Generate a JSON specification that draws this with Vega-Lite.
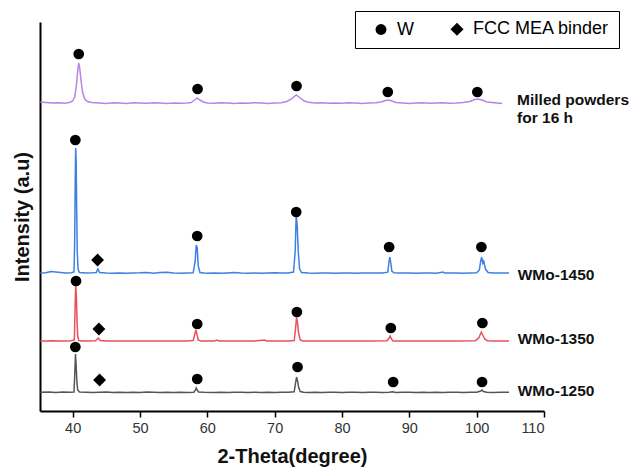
{
  "$schema": "https://vega.github.io/schema/vega-lite/v6.json",
  "width": 504,
  "height": 389,
  "autosize": "none",
  "padding": {"left": 40, "top": 22, "right": 85, "bottom": 60},
  "background": "white",
  "config": {
    "view": {"stroke": null},
    "font": "Liberation Sans"
  },
  "datasets": {
    "lines": [
      {"s":"P","t":35.2,"i":309},{"s":"P","t":36,"i":308.5},{"s":"P","t":37,"i":308},{"s":"P","t":38,"i":308.3},{"s":"P","t":38.8,"i":307.8},{"s":"P","t":39.5,"i":308.5},{"s":"P","t":40,"i":310},{"s":"P","t":40.3,"i":314},{"s":"P","t":40.55,"i":325},{"s":"P","t":40.75,"i":340},{"s":"P","t":40.9,"i":348},{"s":"P","t":41.05,"i":343},{"s":"P","t":41.25,"i":330},{"s":"P","t":41.5,"i":318},{"s":"P","t":41.8,"i":312},{"s":"P","t":42.2,"i":309.5},{"s":"P","t":42.8,"i":308.5},{"s":"P","t":44,"i":308},{"s":"P","t":45,"i":307.5},{"s":"P","t":46,"i":308.3},{"s":"P","t":47,"i":308},{"s":"P","t":48,"i":307.6},{"s":"P","t":49,"i":308.2},{"s":"P","t":50,"i":308},{"s":"P","t":51,"i":307.7},{"s":"P","t":52,"i":308.2},{"s":"P","t":53,"i":308},{"s":"P","t":54,"i":307.6},{"s":"P","t":55,"i":308},{"s":"P","t":56,"i":307.8},{"s":"P","t":57,"i":308},{"s":"P","t":57.6,"i":308.5},{"s":"P","t":58.1,"i":311},{"s":"P","t":58.5,"i":313},{"s":"P","t":58.9,"i":311},{"s":"P","t":59.4,"i":309},{"s":"P","t":60,"i":308},{"s":"P","t":61,"i":307.7},{"s":"P","t":62,"i":308.2},{"s":"P","t":63,"i":308},{"s":"P","t":64,"i":307.5},{"s":"P","t":65,"i":308},{"s":"P","t":66,"i":307.8},{"s":"P","t":67,"i":308.2},{"s":"P","t":68,"i":308},{"s":"P","t":69,"i":307.6},{"s":"P","t":70,"i":308},{"s":"P","t":71,"i":308.3},{"s":"P","t":71.8,"i":309.5},{"s":"P","t":72.5,"i":312},{"s":"P","t":73.2,"i":316},{"s":"P","t":73.8,"i":313},{"s":"P","t":74.4,"i":310},{"s":"P","t":75,"i":308.8},{"s":"P","t":76,"i":308},{"s":"P","t":77,"i":308.2},{"s":"P","t":78,"i":307.7},{"s":"P","t":79,"i":308},{"s":"P","t":80,"i":307.8},{"s":"P","t":81,"i":308.2},{"s":"P","t":82,"i":308},{"s":"P","t":83,"i":307.6},{"s":"P","t":84,"i":308},{"s":"P","t":85,"i":308.3},{"s":"P","t":85.8,"i":309},{"s":"P","t":86.5,"i":310.5},{"s":"P","t":86.9,"i":311},{"s":"P","t":87.4,"i":310},{"s":"P","t":88,"i":308.5},{"s":"P","t":89,"i":308},{"s":"P","t":90,"i":307.6},{"s":"P","t":91,"i":308},{"s":"P","t":92,"i":308.2},{"s":"P","t":93,"i":307.7},{"s":"P","t":94,"i":308},{"s":"P","t":95,"i":308.2},{"s":"P","t":96,"i":307.8},{"s":"P","t":97,"i":308},{"s":"P","t":98,"i":308.4},{"s":"P","t":99,"i":309.5},{"s":"P","t":99.7,"i":311.5},{"s":"P","t":100.2,"i":312},{"s":"P","t":100.8,"i":311},{"s":"P","t":101.5,"i":309},{"s":"P","t":102.3,"i":308.5},{"s":"P","t":103,"i":308},{"s":"P","t":103.8,"i":307.5},

      {"s":"B","t":35.2,"i":138},{"s":"B","t":36,"i":138.2},{"s":"B","t":36.8,"i":139.5},{"s":"B","t":37.5,"i":139},{"s":"B","t":38.2,"i":138.5},{"s":"B","t":39,"i":138},{"s":"B","t":39.8,"i":138.2},{"s":"B","t":40.2,"i":139},{"s":"B","t":40.3,"i":170},{"s":"B","t":40.38,"i":230},{"s":"B","t":40.45,"i":263},{"s":"B","t":40.52,"i":250},{"s":"B","t":40.6,"i":200},{"s":"B","t":40.68,"i":160},{"s":"B","t":40.8,"i":142},{"s":"B","t":41,"i":138.5},{"s":"B","t":42,"i":138},{"s":"B","t":43,"i":138.2},{"s":"B","t":43.5,"i":138.5},{"s":"B","t":43.75,"i":142},{"s":"B","t":44,"i":138.5},{"s":"B","t":45,"i":138},{"s":"B","t":46,"i":137.8},{"s":"B","t":47,"i":138},{"s":"B","t":48,"i":137.7},{"s":"B","t":49,"i":138},{"s":"B","t":50,"i":138.2},{"s":"B","t":51,"i":138.6},{"s":"B","t":52,"i":137.8},{"s":"B","t":53,"i":138.5},{"s":"B","t":54,"i":138.7},{"s":"B","t":55,"i":138},{"s":"B","t":56,"i":137.7},{"s":"B","t":57,"i":138},{"s":"B","t":57.9,"i":138.2},{"s":"B","t":58.2,"i":150},{"s":"B","t":58.35,"i":166},{"s":"B","t":58.5,"i":163},{"s":"B","t":58.65,"i":145},{"s":"B","t":58.9,"i":138.5},{"s":"B","t":59.5,"i":138},{"s":"B","t":60,"i":137.8},{"s":"B","t":61,"i":138},{"s":"B","t":62,"i":137.7},{"s":"B","t":63,"i":138},{"s":"B","t":64,"i":138.4},{"s":"B","t":65,"i":138},{"s":"B","t":66,"i":137.8},{"s":"B","t":67,"i":138},{"s":"B","t":68,"i":137.7},{"s":"B","t":69,"i":138},{"s":"B","t":70,"i":138.2},{"s":"B","t":71,"i":138},{"s":"B","t":72,"i":138},{"s":"B","t":72.8,"i":139},{"s":"B","t":73.05,"i":160},{"s":"B","t":73.2,"i":196},{"s":"B","t":73.35,"i":185},{"s":"B","t":73.5,"i":160},{"s":"B","t":73.7,"i":142},{"s":"B","t":74,"i":138.5},{"s":"B","t":75,"i":138},{"s":"B","t":76,"i":137.8},{"s":"B","t":77,"i":138},{"s":"B","t":78,"i":138},{"s":"B","t":79,"i":137.7},{"s":"B","t":80,"i":138},{"s":"B","t":81,"i":138},{"s":"B","t":82,"i":137.8},{"s":"B","t":83,"i":138},{"s":"B","t":84,"i":138.1},{"s":"B","t":85,"i":138},{"s":"B","t":86,"i":138},{"s":"B","t":86.8,"i":138.8},{"s":"B","t":87.0,"i":150},{"s":"B","t":87.1,"i":154},{"s":"B","t":87.25,"i":148},{"s":"B","t":87.4,"i":140},{"s":"B","t":87.7,"i":138.3},{"s":"B","t":88.5,"i":138},{"s":"B","t":90,"i":138},{"s":"B","t":91,"i":137.8},{"s":"B","t":92,"i":138},{"s":"B","t":93,"i":138},{"s":"B","t":94,"i":137.8},{"s":"B","t":95,"i":139},{"s":"B","t":95.2,"i":138},{"s":"B","t":96,"i":138},{"s":"B","t":97,"i":138},{"s":"B","t":98,"i":137.8},{"s":"B","t":99,"i":138},{"s":"B","t":100,"i":138.2},{"s":"B","t":100.4,"i":141},{"s":"B","t":100.6,"i":150},{"s":"B","t":100.75,"i":154},{"s":"B","t":100.9,"i":148},{"s":"B","t":101.05,"i":150},{"s":"B","t":101.3,"i":142},{"s":"B","t":101.7,"i":138.5},{"s":"B","t":102.5,"i":138},{"s":"B","t":103.5,"i":138},{"s":"B","t":104.8,"i":138},

      {"s":"R","t":35.2,"i":70},{"s":"R","t":36,"i":70},{"s":"R","t":37,"i":70.2},{"s":"R","t":38,"i":70},{"s":"R","t":39,"i":70},{"s":"R","t":39.8,"i":70.3},{"s":"R","t":40.25,"i":71},{"s":"R","t":40.35,"i":100},{"s":"R","t":40.45,"i":126},{"s":"R","t":40.55,"i":115},{"s":"R","t":40.65,"i":90},{"s":"R","t":40.75,"i":75},{"s":"R","t":40.9,"i":70.5},{"s":"R","t":41.5,"i":70},{"s":"R","t":42.5,"i":70},{"s":"R","t":43.4,"i":70.3},{"s":"R","t":43.8,"i":73},{"s":"R","t":44.1,"i":70.5},{"s":"R","t":45,"i":70},{"s":"R","t":47,"i":70},{"s":"R","t":49,"i":70},{"s":"R","t":51,"i":70},{"s":"R","t":53,"i":70},{"s":"R","t":55,"i":70},{"s":"R","t":57,"i":70},{"s":"R","t":57.9,"i":70.5},{"s":"R","t":58.15,"i":77},{"s":"R","t":58.3,"i":81},{"s":"R","t":58.45,"i":77},{"s":"R","t":58.65,"i":71},{"s":"R","t":59,"i":70},{"s":"R","t":60,"i":70},{"s":"R","t":61,"i":70},{"s":"R","t":61.5,"i":71},{"s":"R","t":61.7,"i":70},{"s":"R","t":63,"i":70},{"s":"R","t":65,"i":70},{"s":"R","t":67,"i":70},{"s":"R","t":68.5,"i":71},{"s":"R","t":68.8,"i":70},{"s":"R","t":70,"i":70},{"s":"R","t":72,"i":70},{"s":"R","t":72.9,"i":70.5},{"s":"R","t":73.1,"i":82},{"s":"R","t":73.25,"i":94},{"s":"R","t":73.4,"i":88},{"s":"R","t":73.55,"i":78},{"s":"R","t":73.8,"i":71},{"s":"R","t":74.2,"i":70},{"s":"R","t":76,"i":70},{"s":"R","t":78,"i":70},{"s":"R","t":80,"i":70},{"s":"R","t":82,"i":70},{"s":"R","t":84,"i":70},{"s":"R","t":86.7,"i":70.2},{"s":"R","t":87.0,"i":73},{"s":"R","t":87.15,"i":75},{"s":"R","t":87.35,"i":72},{"s":"R","t":87.6,"i":70},{"s":"R","t":88.5,"i":70},{"s":"R","t":91,"i":70},{"s":"R","t":94,"i":70},{"s":"R","t":97,"i":70},{"s":"R","t":99.8,"i":70.3},{"s":"R","t":100.3,"i":73},{"s":"R","t":100.7,"i":79},{"s":"R","t":100.9,"i":76},{"s":"R","t":101.2,"i":72},{"s":"R","t":101.6,"i":70.3},{"s":"R","t":102.5,"i":70},{"s":"R","t":104.8,"i":70},

      {"s":"K","t":35.2,"i":18.7},{"s":"K","t":36.5,"i":19},{"s":"K","t":37.5,"i":18.5},{"s":"K","t":38.5,"i":19},{"s":"K","t":39.5,"i":18.7},{"s":"K","t":40.2,"i":19},{"s":"K","t":40.32,"i":38},{"s":"K","t":40.42,"i":57},{"s":"K","t":40.52,"i":45},{"s":"K","t":40.62,"i":30},{"s":"K","t":40.75,"i":21},{"s":"K","t":41,"i":19},{"s":"K","t":42,"i":18.7},{"s":"K","t":43,"i":18.5},{"s":"K","t":44,"i":18.7},{"s":"K","t":45,"i":19},{"s":"K","t":46,"i":18.6},{"s":"K","t":47,"i":18.8},{"s":"K","t":48,"i":18.5},{"s":"K","t":49,"i":18.8},{"s":"K","t":50,"i":18.6},{"s":"K","t":51,"i":19},{"s":"K","t":52,"i":18.7},{"s":"K","t":53,"i":18.5},{"s":"K","t":54,"i":18.8},{"s":"K","t":55,"i":18.6},{"s":"K","t":56,"i":18.8},{"s":"K","t":57,"i":18.6},{"s":"K","t":58,"i":18.8},{"s":"K","t":58.25,"i":21},{"s":"K","t":58.35,"i":23},{"s":"K","t":58.5,"i":21},{"s":"K","t":58.7,"i":19},{"s":"K","t":59.5,"i":18.7},{"s":"K","t":61,"i":18.5},{"s":"K","t":62,"i":18.8},{"s":"K","t":63,"i":18.6},{"s":"K","t":64,"i":18.8},{"s":"K","t":65,"i":18.7},{"s":"K","t":66,"i":18.5},{"s":"K","t":67,"i":18.8},{"s":"K","t":68,"i":18.6},{"s":"K","t":69,"i":18.8},{"s":"K","t":70,"i":18.5},{"s":"K","t":71,"i":18.7},{"s":"K","t":72,"i":18.8},{"s":"K","t":72.9,"i":19.2},{"s":"K","t":73.1,"i":28},{"s":"K","t":73.25,"i":34},{"s":"K","t":73.4,"i":30},{"s":"K","t":73.55,"i":24},{"s":"K","t":73.8,"i":19.5},{"s":"K","t":74.3,"i":18.7},{"s":"K","t":75,"i":18.6},{"s":"K","t":76,"i":18.8},{"s":"K","t":77,"i":18.5},{"s":"K","t":78,"i":18.7},{"s":"K","t":79,"i":18.8},{"s":"K","t":80,"i":18.5},{"s":"K","t":81,"i":18.7},{"s":"K","t":82,"i":18.8},{"s":"K","t":83,"i":18.5},{"s":"K","t":84,"i":18.7},{"s":"K","t":85,"i":18.8},{"s":"K","t":86,"i":18.5},{"s":"K","t":87,"i":18.8},{"s":"K","t":87.5,"i":19.3},{"s":"K","t":88,"i":18.6},{"s":"K","t":89,"i":18.7},{"s":"K","t":90,"i":18.8},{"s":"K","t":91,"i":18.5},{"s":"K","t":92,"i":18.7},{"s":"K","t":93,"i":18.6},{"s":"K","t":94,"i":18.8},{"s":"K","t":95,"i":18.5},{"s":"K","t":96,"i":18.7},{"s":"K","t":97,"i":18.8},{"s":"K","t":98,"i":18.5},{"s":"K","t":99,"i":18.7},{"s":"K","t":100,"i":18.8},{"s":"K","t":100.6,"i":20},{"s":"K","t":100.8,"i":21},{"s":"K","t":101,"i":19.5},{"s":"K","t":101.5,"i":18.7},{"s":"K","t":102.5,"i":18.6},{"s":"K","t":103.5,"i":18.8},{"s":"K","t":104.8,"i":18.7}
    ],
    "markers": [
      {"t":40.9,"i":357,"phase":"W"},{"t":58.55,"i":322,"phase":"W"},{"t":73.25,"i":325,"phase":"W"},{"t":86.8,"i":319,"phase":"W"},{"t":100.1,"i":319,"phase":"W"},
      {"t":40.4,"i":271,"phase":"W"},{"t":58.5,"i":175,"phase":"W"},{"t":73.2,"i":199,"phase":"W"},{"t":87.0,"i":164,"phase":"W"},{"t":100.7,"i":164,"phase":"W"},{"t":43.7,"i":151,"phase":"FCC MEA binder"},
      {"t":40.5,"i":130,"phase":"W"},{"t":58.5,"i":87,"phase":"W"},{"t":73.3,"i":99,"phase":"W"},{"t":87.25,"i":83,"phase":"W"},{"t":100.85,"i":88,"phase":"W"},{"t":43.9,"i":82,"phase":"FCC MEA binder"},
      {"t":40.4,"i":64,"phase":"W"},{"t":58.5,"i":32,"phase":"W"},{"t":73.4,"i":44,"phase":"W"},{"t":87.6,"i":29,"phase":"W"},{"t":100.8,"i":29,"phase":"W"},{"t":44.0,"i":31,"phase":"FCC MEA binder"}
    ],
    "labels": [
      {"t":106,"i":311,"txt":"Milled powders"},
      {"t":106,"i":293,"txt":"for 16 h"},
      {"t":106.1,"i":136,"txt":"WMo-1450"},
      {"t":106.1,"i":72,"txt":"WMo-1350"},
      {"t":106.1,"i":20,"txt":"WMo-1250"}
    ]
  },
  "layer": [
    {
      "data": {"name": "lines"},
      "mark": {"type": "line", "strokeWidth": 1.5, "clip": false},
      "encoding": {
        "x": {
          "field": "t", "type": "quantitative",
          "scale": {"domain": [35.15, 110], "nice": false, "zero": false},
          "axis": {
            "title": "2-Theta(degree)",
            "values": [35,40,45,50,55,60,65,70,75,80,85,90,95,100,105,110],
            "labelExpr": "datum.value % 10 === 0 ? datum.label : ''",
            "grid": false,
            "domainColor": "black", "domainWidth": 2,
            "tickColor": "black", "tickWidth": 1.5,
            "tickSize": {"condition": {"test": "datum.value % 10 === 0", "value": 6}, "value": 4},
            "labelFontSize": 14.5, "labelColor": "#333", "labelPadding": 4,
            "labelFont": "Liberation Sans",
            "titleFontSize": 20, "titleFontWeight": "bold", "titleColor": "#111",
            "titleFont": "Liberation Sans", "titlePadding": 12
          }
        },
        "y": {
          "field": "i", "type": "quantitative",
          "scale": {"domain": [0, 389], "nice": false},
          "axis": {
            "title": "Intensity (a.u)",
            "labels": false, "ticks": false, "grid": false,
            "domainColor": "black", "domainWidth": 2,
            "titleFontSize": 20, "titleFontWeight": "bold", "titleColor": "#111",
            "titleFont": "Liberation Sans", "titlePadding": 8
          }
        },
        "color": {
          "field": "s", "type": "nominal",
          "scale": {"domain": ["P","B","R","K"], "range": ["#b784e6","#3d80e3","#e8505a","#555555"]},
          "legend": null
        },
        "detail": {"field": "s"}
      }
    },
    {
      "data": {"name": "markers"},
      "mark": {"type": "point", "filled": true, "color": "black", "opacity": 1, "size": 115},
      "encoding": {
        "x": {"field": "t", "type": "quantitative"},
        "y": {"field": "i", "type": "quantitative"},
        "shape": {
          "field": "phase", "type": "nominal",
          "scale": {"domain": ["W", "FCC MEA binder"], "range": ["circle", "M0,-1.2L1.2,0L0,1.2L-1.2,0Z"]},
          "legend": {
            "title": null,
            "orient": "none",
            "legendX": 315,
            "legendY": -11,
            "direction": "horizontal",
            "strokeColor": "black",
            "padding": 9,
            "columnPadding": 26,
            "labelFontSize": 18,
            "labelColor": "black",
            "labelFont": "Liberation Sans",
            "symbolSize": 120,
            "symbolFillColor": "black",
            "symbolStrokeColor": "black",
            "symbolOffset": 8,
            "labelOffset": 7
          }
        }
      }
    },
    {
      "data": {"name": "labels"},
      "mark": {"type": "text", "align": "left", "baseline": "middle", "fontWeight": "bold", "fontSize": 15.5, "font": "Liberation Sans", "color": "#111"},
      "encoding": {
        "x": {"field": "t", "type": "quantitative"},
        "y": {"field": "i", "type": "quantitative"},
        "text": {"field": "txt"}
      }
    }
  ]
}
